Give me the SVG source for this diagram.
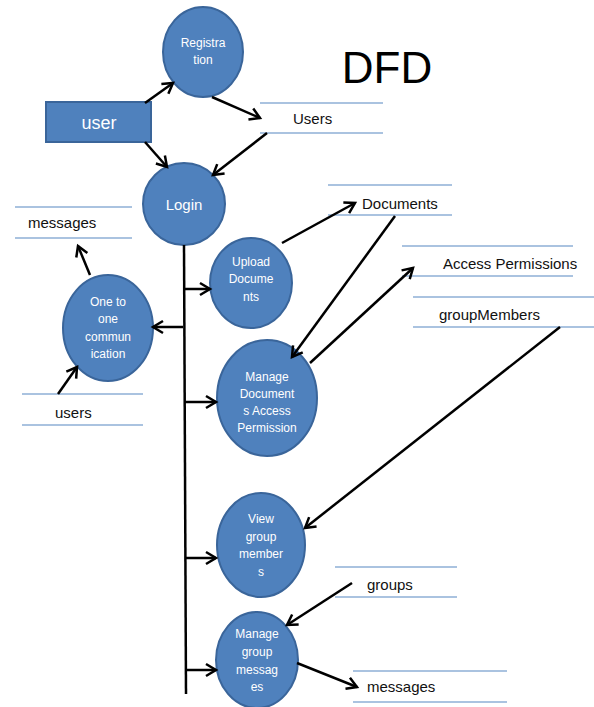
<svg xmlns="http://www.w3.org/2000/svg" width="594" height="707" viewBox="0 0 594 707">
<style>
.proc{fill:#4F81BD;stroke:#3A659A;stroke-width:2}
.pt{font-family:"Liberation Sans",Arial,sans-serif;font-size:12px;fill:#fff;text-anchor:middle}
.st{stroke:#8EAFD6;stroke-width:1.5}
.lb{font-family:"Liberation Sans",Arial,sans-serif;font-size:15px;fill:#111}
.c{stroke:#000;stroke-width:2.5;fill:none}
.ar{marker-end:url(#ah)}
</style>
<defs>
<marker id="ah" markerUnits="userSpaceOnUse" viewBox="-12 -8 14 16" refX="0" refY="0" markerWidth="14" markerHeight="16" orient="auto" overflow="visible">
<path d="M-10,-6 L0,0 L-10,6" fill="none" stroke="#000" stroke-width="2.5" stroke-linejoin="miter"/>
</marker>
</defs>
<rect width="594" height="707" fill="#fff"/>
<text x="387" y="83" font-family="Liberation Sans,Arial,sans-serif" font-size="44" text-anchor="middle" fill="#000">DFD</text>

<g id="user">
<rect x="46" y="102" width="105" height="40" fill="#4F81BD" stroke="#3A659A" stroke-width="2"/>
<text x="99" y="129" font-family="Liberation Sans,Arial,sans-serif" font-size="18" fill="#fff" text-anchor="middle">user</text>
</g>
<g id="registration">
<ellipse class="proc" cx="203" cy="52" rx="40" ry="45"/>
<text class="pt" x="203" y="47">Registra</text>
<text class="pt" x="203" y="64">tion</text>
</g>
<g id="login">
<ellipse class="proc" cx="184" cy="204" rx="41" ry="41"/>
<text class="pt" x="184" y="210" style="font-size:15px">Login</text>
</g>
<g id="upload">
<ellipse class="proc" cx="251" cy="283" rx="41" ry="45"/>
<text class="pt" x="251" y="266">Upload</text>
<text class="pt" x="251" y="283">Docume</text>
<text class="pt" x="251" y="301">nts</text>
</g>
<g id="manageDocs">
<ellipse class="proc" cx="267" cy="398" rx="50" ry="58"/>
<text class="pt" x="267" y="381">Manage</text>
<text class="pt" x="267" y="398">Document</text>
<text class="pt" x="267" y="415">s Access</text>
<text class="pt" x="267" y="432">Permission</text>
</g>
<g id="oneToOne">
<ellipse class="proc" cx="108" cy="328" rx="45" ry="53"/>
<text class="pt" x="108" y="306">One to</text>
<text class="pt" x="108" y="323">one</text>
<text class="pt" x="108" y="341">commun</text>
<text class="pt" x="108" y="358">ication</text>
</g>
<g id="viewGroup">
<ellipse class="proc" cx="261" cy="545" rx="44" ry="52"/>
<text class="pt" x="261" y="523">View</text>
<text class="pt" x="261" y="541">group</text>
<text class="pt" x="261" y="558">member</text>
<text class="pt" x="261" y="576">s</text>
</g>
<g id="manageGroupMsgs">
<ellipse class="proc" cx="257" cy="660" rx="41" ry="48"/>
<text class="pt" x="257" y="638">Manage</text>
<text class="pt" x="257" y="656">group</text>
<text class="pt" x="257" y="674">messag</text>
<text class="pt" x="257" y="691">es</text>
</g>

<g id="storeUsers">
<line class="st" x1="260" y1="103" x2="383" y2="103"/>
<line class="st" x1="260" y1="133" x2="383" y2="133"/>
<text class="lb" x="293" y="124">Users</text>
</g>
<g id="storeDocuments">
<line class="st" x1="328" y1="185" x2="452" y2="185"/>
<line class="st" x1="328" y1="215" x2="452" y2="215"/>
<text class="lb" x="362" y="209">Documents</text>
</g>
<g id="storeAccess">
<line class="st" x1="402" y1="246" x2="573" y2="246"/>
<line class="st" x1="402" y1="276" x2="573" y2="276"/>
<text class="lb" x="443" y="269">Access Permissions</text>
</g>
<g id="storeGroupMembers">
<line class="st" x1="413" y1="297" x2="594" y2="297"/>
<line class="st" x1="413" y1="327" x2="594" y2="327"/>
<text class="lb" x="439" y="320">groupMembers</text>
</g>
<g id="storeMessagesTop">
<line class="st" x1="15" y1="207" x2="132" y2="207"/>
<line class="st" x1="15" y1="238" x2="132" y2="238"/>
<text class="lb" x="28" y="228">messages</text>
</g>
<g id="storeUsersLeft">
<line class="st" x1="22" y1="394" x2="143" y2="394"/>
<line class="st" x1="22" y1="425" x2="143" y2="425"/>
<text class="lb" x="55" y="418">users</text>
</g>
<g id="storeGroups">
<line class="st" x1="335" y1="567" x2="457" y2="567"/>
<line class="st" x1="335" y1="597" x2="457" y2="597"/>
<text class="lb" x="367" y="590">groups</text>
</g>
<g id="storeMessagesBottom">
<line class="st" x1="353" y1="671" x2="507" y2="671"/>
<line class="st" x1="353" y1="702" x2="507" y2="702"/>
<text class="lb" x="367" y="692">messages</text>
</g>

<g id="connectors">
<line class="c ar" x1="145" y1="103" x2="173" y2="83"/>
<line class="c ar" x1="145" y1="142" x2="167" y2="167"/>
<line class="c ar" x1="212" y1="97" x2="260" y2="118"/>
<line class="c ar" x1="267" y1="133" x2="213" y2="175"/>
<line class="c" x1="184" y1="245" x2="186" y2="694"/>
<line class="c ar" x1="184" y1="289" x2="210" y2="289"/>
<line class="c ar" x1="183" y1="327" x2="153" y2="327"/>
<line class="c ar" x1="185" y1="402" x2="216" y2="402"/>
<line class="c ar" x1="186" y1="558" x2="216" y2="558"/>
<line class="c ar" x1="187" y1="670" x2="216" y2="670"/>
<line class="c ar" x1="90" y1="275" x2="78" y2="246"/>
<line class="c ar" x1="58" y1="394" x2="77" y2="367"/>
<line class="c ar" x1="282" y1="243" x2="355" y2="203"/>
<line class="c ar" x1="395" y1="216" x2="292" y2="357"/>
<line class="c ar" x1="310" y1="363" x2="413" y2="268"/>
<line class="c ar" x1="560" y1="327" x2="305" y2="528"/>
<line class="c ar" x1="352" y1="583" x2="287" y2="625"/>
<line class="c ar" x1="297" y1="663" x2="357" y2="687"/>
</g>
</svg>
